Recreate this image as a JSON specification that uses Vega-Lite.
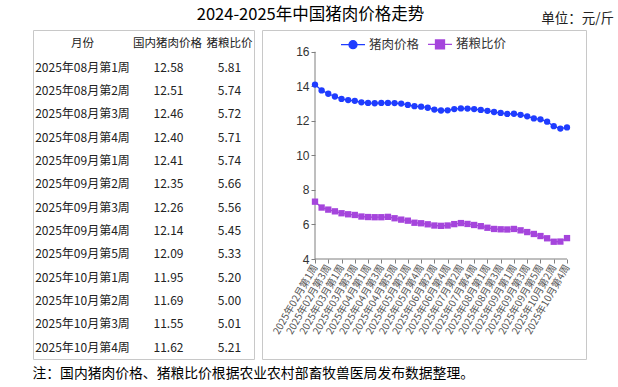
{
  "$schema": "https://vega.github.io/schema/vega-lite/v6.json",
  "background": "white",
  "padding": {"left": 32, "top": 6, "right": 5, "bottom": 5},
  "config": {"font": "Noto Sans CJK SC", "view": {"stroke": "#c8c8c8"}},
  "title": {"text": "注：国内猪肉价格、猪粮比价根据农业农村部畜牧兽医局发布数据整理。", "orient": "bottom", "anchor": "start", "fontSize": 13.8, "fontWeight": "normal", "color": "#000", "offset": 7, "font": "Noto Sans CJK SC"},
  "datasets": {
    "weekly": [
      {"week": "2025年02月第1周", "猪肉价格": 14.10, "猪粮比价": 7.32},
      {"week": "2025年02月第2周", "猪肉价格": 13.76, "猪粮比价": 6.98},
      {"week": "2025年02月第3周", "猪肉价格": 13.57, "猪粮比价": 6.86},
      {"week": "2025年02月第4周", "猪肉价格": 13.41, "猪粮比价": 6.76},
      {"week": "2025年03月第1周", "猪肉价格": 13.27, "猪粮比价": 6.65},
      {"week": "2025年03月第2周", "猪肉价格": 13.20, "猪粮比价": 6.59},
      {"week": "2025年03月第3周", "猪肉价格": 13.16, "猪粮比价": 6.55},
      {"week": "2025年03月第4周", "猪肉价格": 13.07, "猪粮比价": 6.46},
      {"week": "2025年04月第1周", "猪肉价格": 13.04, "猪粮比价": 6.43},
      {"week": "2025年04月第2周", "猪肉价格": 13.02, "猪粮比价": 6.42},
      {"week": "2025年04月第3周", "猪肉价格": 13.04, "猪粮比价": 6.42},
      {"week": "2025年04月第4周", "猪肉价格": 13.04, "猪粮比价": 6.44},
      {"week": "2025年04月第5周", "猪肉价格": 13.03, "猪粮比价": 6.36},
      {"week": "2025年05月第1周", "猪肉价格": 13.00, "猪粮比价": 6.28},
      {"week": "2025年05月第2周", "猪肉价格": 12.92, "猪粮比价": 6.22},
      {"week": "2025年05月第3周", "猪肉价格": 12.85, "猪粮比价": 6.10},
      {"week": "2025年05月第4周", "猪肉价格": 12.82, "猪粮比价": 6.07},
      {"week": "2025年06月第1周", "猪肉价格": 12.76, "猪粮比价": 6.01},
      {"week": "2025年06月第2周", "猪肉价格": 12.65, "猪粮比价": 5.94},
      {"week": "2025年06月第3周", "猪肉价格": 12.60, "猪粮比价": 5.92},
      {"week": "2025年06月第4周", "猪肉价格": 12.61, "猪粮比价": 5.94},
      {"week": "2025年07月第1周", "猪肉价格": 12.68, "猪粮比价": 6.02},
      {"week": "2025年07月第2周", "猪肉价格": 12.72, "猪粮比价": 6.08},
      {"week": "2025年07月第3周", "猪肉价格": 12.71, "猪粮比价": 6.03},
      {"week": "2025年07月第4周", "猪肉价格": 12.68, "猪粮比价": 5.97},
      {"week": "2025年07月第5周", "猪肉价格": 12.63, "猪粮比价": 5.90},
      {"week": "2025年08月第1周", "猪肉价格": 12.58, "猪粮比价": 5.81},
      {"week": "2025年08月第2周", "猪肉价格": 12.51, "猪粮比价": 5.74},
      {"week": "2025年08月第3周", "猪肉价格": 12.46, "猪粮比价": 5.72},
      {"week": "2025年08月第4周", "猪肉价格": 12.40, "猪粮比价": 5.71},
      {"week": "2025年09月第1周", "猪肉价格": 12.41, "猪粮比价": 5.74},
      {"week": "2025年09月第2周", "猪肉价格": 12.35, "猪粮比价": 5.66},
      {"week": "2025年09月第3周", "猪肉价格": 12.26, "猪粮比价": 5.56},
      {"week": "2025年09月第4周", "猪肉价格": 12.14, "猪粮比价": 5.45},
      {"week": "2025年09月第5周", "猪肉价格": 12.09, "猪粮比价": 5.33},
      {"week": "2025年10月第1周", "猪肉价格": 11.95, "猪粮比价": 5.20},
      {"week": "2025年10月第2周", "猪肉价格": 11.69, "猪粮比价": 5.00},
      {"week": "2025年10月第3周", "猪肉价格": 11.55, "猪粮比价": 5.01},
      {"week": "2025年10月第4周", "猪肉价格": 11.62, "猪粮比价": 5.21}
    ],
    "table": [
      {"月份": "2025年08月第1周", "国内猪肉价格": 12.58, "猪粮比价": 5.81},
      {"月份": "2025年08月第2周", "国内猪肉价格": 12.51, "猪粮比价": 5.74},
      {"月份": "2025年08月第3周", "国内猪肉价格": 12.46, "猪粮比价": 5.72},
      {"月份": "2025年08月第4周", "国内猪肉价格": 12.40, "猪粮比价": 5.71},
      {"月份": "2025年09月第1周", "国内猪肉价格": 12.41, "猪粮比价": 5.74},
      {"月份": "2025年09月第2周", "国内猪肉价格": 12.35, "猪粮比价": 5.66},
      {"月份": "2025年09月第3周", "国内猪肉价格": 12.26, "猪粮比价": 5.56},
      {"月份": "2025年09月第4周", "国内猪肉价格": 12.14, "猪粮比价": 5.45},
      {"月份": "2025年09月第5周", "国内猪肉价格": 12.09, "猪粮比价": 5.33},
      {"月份": "2025年10月第1周", "国内猪肉价格": 11.95, "猪粮比价": 5.20},
      {"月份": "2025年10月第2周", "国内猪肉价格": 11.69, "猪粮比价": 5.00},
      {"月份": "2025年10月第3周", "国内猪肉价格": 11.55, "猪粮比价": 5.01},
      {"月份": "2025年10月第4周", "国内猪肉价格": 11.62, "猪粮比价": 5.21}
    ]
  },
  "spacing": 8,
  "bounds": "flush",
  "hconcat": [
    {
      "width": 221,
      "height": 329,
      "title": {"text": "2024-2025年中国猪肉价格走势", "anchor": "middle", "dx": 167, "fontSize": 16.5, "fontWeight": "normal", "offset": 7, "color": "#000"},
      "data": {"name": "table"},
      "layer": [
        {
          "mark": {"type": "text", "fontSize": 12, "color": "#222"},
          "encoding": {
            "x": {"datum": "月份", "type": "nominal", "scale": {"type": "point", "domain": ["月份", "国内猪肉价格", "猪粮比价"], "padding": 0.5034, "align": 0.669}, "axis": null},
            "y": {"field": "月份", "type": "nominal", "sort": null, "scale": {"type": "point", "domain": ["月份", "2025年08月第1周", "2025年08月第2周", "2025年08月第3周", "2025年08月第4周", "2025年09月第1周", "2025年09月第2周", "2025年09月第3周", "2025年09月第4周", "2025年09月第5周", "2025年10月第1周", "2025年10月第2周", "2025年10月第3周", "2025年10月第4周"], "padding": 0.548, "align": 0.559}, "axis": null},
            "text": {"field": "月份"}
          }
        },
        {
          "mark": {"type": "text", "fontSize": 12, "color": "#222", "dx": 12.5},
          "encoding": {
            "x": {"datum": "国内猪肉价格", "type": "nominal"},
            "y": {"field": "月份", "type": "nominal"},
            "text": {"field": "国内猪肉价格", "format": ".2f"}
          }
        },
        {
          "mark": {"type": "text", "fontSize": 12, "color": "#222"},
          "encoding": {
            "x": {"datum": "猪粮比价", "type": "nominal"},
            "y": {"field": "月份", "type": "nominal"},
            "text": {"field": "猪粮比价", "format": ".2f"}
          }
        },
        {
          "data": {"values": [{"h": "月份"}, {"h": "猪粮比价"}]},
          "mark": {"type": "text", "fontSize": 11.5, "color": "#222"},
          "encoding": {
            "x": {"field": "h", "type": "nominal"},
            "y": {"datum": "月份", "type": "nominal"},
            "text": {"field": "h"}
          }
        },
        {
          "data": {"values": [{"h": "国内猪肉价格"}]},
          "mark": {"type": "text", "fontSize": 11.5, "color": "#222", "dx": 11.5},
          "encoding": {
            "x": {"field": "h", "type": "nominal"},
            "y": {"datum": "月份", "type": "nominal"},
            "text": {"field": "h"}
          }
        }
      ]
    },
    {
      "width": 324,
      "height": 329,
      "title": {"text": "单位：元/斤", "anchor": "end", "dx": 28, "fontSize": 13.5, "fontWeight": "normal", "offset": 5, "color": "#222"},
      "data": {"name": "weekly"},
      "layer": [
        {
          "data": {"values": [{}]},
          "mark": {"type": "rule", "color": "#7f7f7f", "strokeWidth": 1},
          "encoding": {
            "x": {
              "datum": "2025年02月第1周", "type": "ordinal",
              "scale": {"type": "point", "domain": ["2025年02月第1周", "2025年02月第2周", "2025年02月第3周", "2025年02月第4周", "2025年03月第1周", "2025年03月第2周", "2025年03月第3周", "2025年03月第4周", "2025年04月第1周", "2025年04月第2周", "2025年04月第3周", "2025年04月第4周", "2025年04月第5周", "2025年05月第1周", "2025年05月第2周", "2025年05月第3周", "2025年05月第4周", "2025年06月第1周", "2025年06月第2周", "2025年06月第3周", "2025年06月第4周", "2025年07月第1周", "2025年07月第2周", "2025年07月第3周", "2025年07月第4周", "2025年07月第5周", "2025年08月第1周", "2025年08月第2周", "2025年08月第3周", "2025年08月第4周", "2025年09月第1周", "2025年09月第2周", "2025年09月第3周", "2025年09月第4周", "2025年09月第5周", "2025年10月第1周", "2025年10月第2周", "2025年10月第3周", "2025年10月第4周"], "range": [53, 305], "padding": 0},
              "axis": {"orient": "bottom", "offset": -100, "title": null, "domain": false, "grid": false, "values": ["2025年02月第1周", "2025年02月第3周", "2025年03月第1周", "2025年03月第3周", "2025年04月第1周", "2025年04月第3周", "2025年04月第5周", "2025年05月第2周", "2025年05月第4周", "2025年06月第2周", "2025年06月第4周", "2025年07月第2周", "2025年07月第4周", "2025年08月第1周", "2025年08月第3周", "2025年09月第1周", "2025年09月第3周", "2025年09月第5周", "2025年10月第2周", "2025年10月第4周"], "tickSize": 4, "tickColor": "#7f7f7f", "labelAngle": -60, "labelFontSize": 10, "labelColor": "#555", "labelPadding": 2, "labelOverlap": false, "labelBound": false}
            },
            "x2": {"datum": "2025年10月第4周"},
            "y": {
              "datum": 4, "type": "quantitative",
              "scale": {"domain": [-1.79, 17.26], "nice": false, "zero": false},
              "axis": {"title": null, "values": [4, 6, 8, 10, 12, 14, 16], "offset": -53, "domain": false, "grid": false, "tickSize": 4, "tickColor": "#7f7f7f", "labelFontSize": 12, "labelColor": "#333", "labelPadding": 2, "labelFont": "Liberation Sans"}
            }
          }
        },
        {
          "data": {"values": [{}]},
          "mark": {"type": "rule", "color": "#7f7f7f", "strokeWidth": 1},
          "encoding": {
            "x": {"datum": "2025年02月第1周", "type": "ordinal"},
            "y": {"datum": 4, "type": "quantitative"},
            "y2": {"datum": 16}
          }
        },
        {
          "transform": [{"fold": ["猪肉价格", "猪粮比价"], "as": ["key", "value"]}],
          "mark": {"type": "line", "strokeWidth": 1.3},
          "encoding": {
            "x": {"field": "week", "type": "ordinal", "sort": null},
            "y": {"field": "value", "type": "quantitative"},
            "color": {
              "field": "key", "type": "nominal",
              "scale": {"domain": ["猪肉价格", "猪粮比价"], "range": ["#1f3cff", "#a545dc"]},
              "legend": {
                "orient": "none", "legendX": 307, "legendY": 1, "direction": "horizontal", "title": null, "padding": 0,
                "labelFontSize": 12.5, "labelColor": "#333", "symbolSize": 576, "labelOffset": 3, "columnPadding": 5,
                "encode": {"symbols": {"update": {
                  "shape": {"signal": "datum.value === '猪肉价格' ? 'M-1,0L1,0M-0.333,0A0.333,0.333,0,1,1,0.333,0A0.333,0.333,0,1,1,-0.333,0Z' : 'M-1,0L1,0M-0.375,-0.375L0.375,-0.375L0.375,0.375L-0.375,0.375Z'"},
                  "fill": {"signal": "scale('color', datum.value)"},
                  "stroke": {"signal": "scale('color', datum.value)"},
                  "strokeWidth": {"value": 1.3},
                  "opacity": {"value": 1}
                }}}
              }
            }
          }
        },
        {
          "transform": [{"fold": ["猪肉价格", "猪粮比价"], "as": ["key", "value"]}, {"filter": "datum.key === '猪肉价格'"}],
          "mark": {"type": "point", "filled": true, "size": 40, "opacity": 1, "shape": "circle"},
          "encoding": {
            "x": {"field": "week", "type": "ordinal", "sort": null},
            "y": {"field": "value", "type": "quantitative"},
            "color": {"field": "key", "type": "nominal", "legend": null}
          }
        },
        {
          "transform": [{"fold": ["猪肉价格", "猪粮比价"], "as": ["key", "value"]}, {"filter": "datum.key === '猪粮比价'"}],
          "mark": {"type": "point", "filled": true, "size": 40, "opacity": 1, "shape": "square"},
          "encoding": {
            "x": {"field": "week", "type": "ordinal", "sort": null},
            "y": {"field": "value", "type": "quantitative"},
            "color": {"field": "key", "type": "nominal", "legend": null}
          }
        }
      ]
    }
  ]
}
